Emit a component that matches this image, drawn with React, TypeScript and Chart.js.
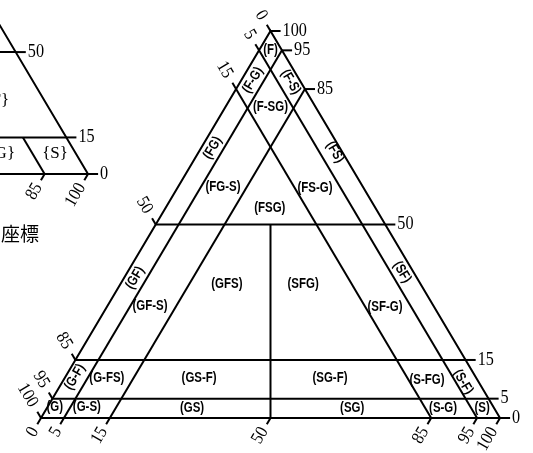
import React, { useEffect, useRef } from "react";
import { Chart, registerables } from "chart.js";

Chart.register(...registerables);

// ---- main triangle (G bottom-left, S bottom-right, F top) ----
const fineLines = [5, 15, 50]; // F % boundaries (horizontal)
const sandLines = [5, 15]; // S % boundaries
const gravelLines = [5, 15]; // G % boundaries
const splitTopFine = 50; // G = S split below this F %
const gravelTicks = [0, 5, 15, 50, 85, 95, 100]; // left edge
const sandTicks = [0, 5, 15, 50, 85, 95, 100]; // bottom edge
const fineTicks = [100, 95, 85, 50, 15, 5, 0]; // right edge

const regionNames = [
  "(F)", "(F-G)", "(F-S)", "(F-SG)", "(FG)", "(FS)", "(FG-S)", "(FS-G)", "(FSG)",
  "(GF)", "(SF)", "(GF-S)", "(SF-G)", "(GFS)", "(SFG)",
  "(G-F)", "(G-FS)", "(GS-F)", "(SG-F)", "(S-FG)", "(S-F)",
  "(G)", "(G-S)", "(GS)", "(SG)", "(S-G)", "(S)",
];
const regionSand = [
  2.5, 2.5, 11, 9.8, 2.5, 29.7, 9.8, 30, 22.7,
  2.4, 59.8, 9.3, 60.6, 23.2, 39.8,
  2.1, 9.2, 29.3, 57.8, 79.2, 87.3,
  1.6, 8.6, 31.6, 66.5, 86.3, 94.8,
];
const regionFine = [
  95, 87.3, 86.8, 80.4, 69.8, 68.7, 59.7, 59.4, 54.3,
  36.2, 37.7, 28.9, 28.7, 34.6, 34.6,
  10.6, 10.3, 10.3, 10.3, 9.8, 9.3,
  2.8, 2.8, 2.6, 2.6, 2.6, 2.6,
];

// ---- partial second triangle (top-left) ----
const insetFineLines = [15, 50];
const insetGravelLine = 15; // drawn below F = 15
const insetFineTicks = [50, 15, 0];
const insetSandTicks = [85, 100];
const insetNames = ["{SF}", "{SG}", "{S}"];
const insetSand = [51.5, 64.1, 84.5];
const insetFine = [30.3, 8.2, 8.2];
const caption = "座標";

// ---- frames / axis ranges ----
const X_MIN = -8.93, X_MAX = 107.19, Y_MIN = -9.04, Y_MAX = 108.01;
type Frame = { x0: number; y0: number; k: number };
const MAIN: Frame = { x0: 0, y0: 0, k: 1 };
const INSET: Frame = { x0: -52.76, y0: 63.05, k: 0.63 };
const TICK_SLANT = 1.6; // ternary units
const TICK_RIGHT = 2.2;

const pt = (fr: Frame, s: number, f: number) => ({
  x: fr.x0 + fr.k * (s + f / 2),
  y: fr.y0 + fr.k * f,
});

type Tick = { a: { x: number; y: number }; b: { x: number; y: number }; label: string; side: string };

function buildTicks(fr: Frame, g: number[], s: number[], f: number[]): Tick[] {
  const out: Tick[] = [];
  const t = TICK_SLANT / fr.k;
  const tr = TICK_RIGHT / fr.k;
  g.forEach((v) => {
    const S = 0, F = 100 - v;
    out.push({ a: pt(fr, S, F), b: pt(fr, S - t, F + t), label: String(v), side: "left" });
  });
  s.forEach((v) => {
    out.push({ a: pt(fr, v, 0), b: pt(fr, v, -t), label: String(v), side: "bottom" });
  });
  f.forEach((v) => {
    out.push({ a: pt(fr, 100 - v, v), b: pt(fr, 100 - v + tr, v), label: String(v), side: "right" });
  });
  return out;
}

const mainTicks = buildTicks(MAIN, gravelTicks, sandTicks, fineTicks);
const insetTicks = buildTicks(INSET, [], insetSandTicks, insetFineTicks);

function lineDs(points: { x: number; y: number }[]) {
  return {
    type: "scatter" as const,
    data: points,
    showLine: true,
    borderColor: "#000",
    borderWidth: 2,
    pointRadius: 0,
    fill: false,
    tension: 0,
  };
}

function buildDatasets() {
  const ds: any[] = [];
  // main triangle
  ds.push(lineDs([pt(MAIN, 0, 0), pt(MAIN, 100, 0), pt(MAIN, 0, 100), pt(MAIN, 0, 0)]));
  fineLines.forEach((f) => ds.push(lineDs([pt(MAIN, 0, f), pt(MAIN, 100 - f, f)])));
  sandLines.forEach((s) => ds.push(lineDs([pt(MAIN, s, 0), pt(MAIN, s, 100 - s)])));
  gravelLines.forEach((g) => ds.push(lineDs([pt(MAIN, 0, 100 - g), pt(MAIN, 100 - g, 0)])));
  ds.push(lineDs([pt(MAIN, (100 - splitTopFine) / 2, splitTopFine), pt(MAIN, 50, 0)]));
  // inset triangle
  ds.push(lineDs([pt(INSET, 0, 0), pt(INSET, 100, 0), pt(INSET, 0, 100), pt(INSET, 0, 0)]));
  insetFineLines.forEach((f) => ds.push(lineDs([pt(INSET, 0, f), pt(INSET, 100 - f, f)])));
  ds.push(lineDs([pt(INSET, 100 - insetGravelLine - 15, 15), pt(INSET, 100 - insetGravelLine, 0)]));
  // ticks
  [...mainTicks, ...insetTicks].forEach((tk) => ds.push(lineDs([tk.a, tk.b])));
  return ds;
}

function drawText(
  ctx: CanvasRenderingContext2D, text: string, x: number, y: number,
  angle: number, align: CanvasTextAlign, font: string, sx: number
) {
  ctx.save();
  ctx.translate(x, y);
  ctx.rotate(angle);
  ctx.scale(sx, 1);
  ctx.font = font;
  ctx.textAlign = align;
  ctx.textBaseline = "middle";
  ctx.fillStyle = "#000";
  ctx.fillText(text, 0, 0);
  ctx.restore();
}

const NUM_FONT = "18px 'Liberation Serif'";
const REGION_FONT = "bold 14px 'Liberation Sans'";
const INSET_FONT = "17px 'Liberation Serif'";

const textPlugin = {
  id: "ternaryText",
  afterDatasetsDraw(chart: any) {
    const ctx: CanvasRenderingContext2D = chart.ctx;
    const xs = chart.scales.x, ys = chart.scales.y;
    const px = (p: { x: number; y: number }) => ({ x: xs.getPixelForValue(p.x), y: ys.getPixelForValue(p.y) });

    // tick labels
    [...mainTicks, ...insetTicks].forEach((tk) => {
      const a = px(tk.a), b = px(tk.b);
      const dx = b.x - a.x, dy = b.y - a.y;
      const len = Math.hypot(dx, dy);
      const ux = dx / len, uy = dy / len;
      if (tk.side === "right") {
        drawText(ctx, tk.label, b.x + ux * 2, b.y, 0, "left", NUM_FONT, 0.9);
      } else {
        const gap = tk.side === "left" ? 7 : 5;
        drawText(ctx, tk.label, b.x + ux * gap, b.y + uy * gap, Math.atan2(-uy, -ux), "right", NUM_FONT, 0.9);
      }
    });

    // region labels
    const pG = px(pt(MAIN, 0, 0)), pS = px(pt(MAIN, 100, 0)), pF = px(pt(MAIN, 0, 100));
    const leftAngle = Math.atan2(pF.y - pG.y, pF.x - pG.x);
    const rightAngle = Math.atan2(pS.y - pF.y, pS.x - pF.x);
    regionNames.forEach((name, i) => {
      const s = regionSand[i], f = regionFine[i], g = 100 - s - f;
      const p = px(pt(MAIN, s, f));
      let ang = 0;
      if (f > 5 && f < 90) {
        if (s < 5) ang = leftAngle;
        else if (g < 5) ang = rightAngle;
      }
      drawText(ctx, name, p.x, p.y, ang, "center", REGION_FONT, 0.82);
    });

    insetNames.forEach((name, i) => {
      const p = px(pt(INSET, insetSand[i], insetFine[i]));
      drawText(ctx, name, p.x, p.y, 0, "center", INSET_FONT, 1);
    });

    // caption below the inset triangle
    const base = px(pt(INSET, 85, 0));
    drawText(ctx, caption, 1, base.y + 60, 0, "left", "19px 'Noto Sans CJK JP'", 1);
  },
};

export default function App() {
  const ref = useRef<HTMLCanvasElement>(null);
  useEffect(() => {
    document.body.style.margin = "0";
    const chart = new Chart(ref.current as HTMLCanvasElement, {
      type: "scatter",
      data: { datasets: buildDatasets() },
      options: {
        animation: false,
        responsive: false,
        devicePixelRatio: 1,
        layout: { padding: 0 },
        plugins: { legend: { display: false }, tooltip: { enabled: false } },
        scales: {
          x: { type: "linear", min: X_MIN, max: X_MAX, display: false },
          y: { type: "linear", min: Y_MIN, max: Y_MAX, display: false },
        },
      },
      plugins: [textPlugin],
    });
    return () => chart.destroy();
  }, []);
  return (
    <div style={{ position: "absolute", left: 0, top: 0, width: 533, height: 453, background: "#fff" }}>
      <canvas ref={ref} width={533} height={453} style={{ display: "block" }} />
    </div>
  );
}
